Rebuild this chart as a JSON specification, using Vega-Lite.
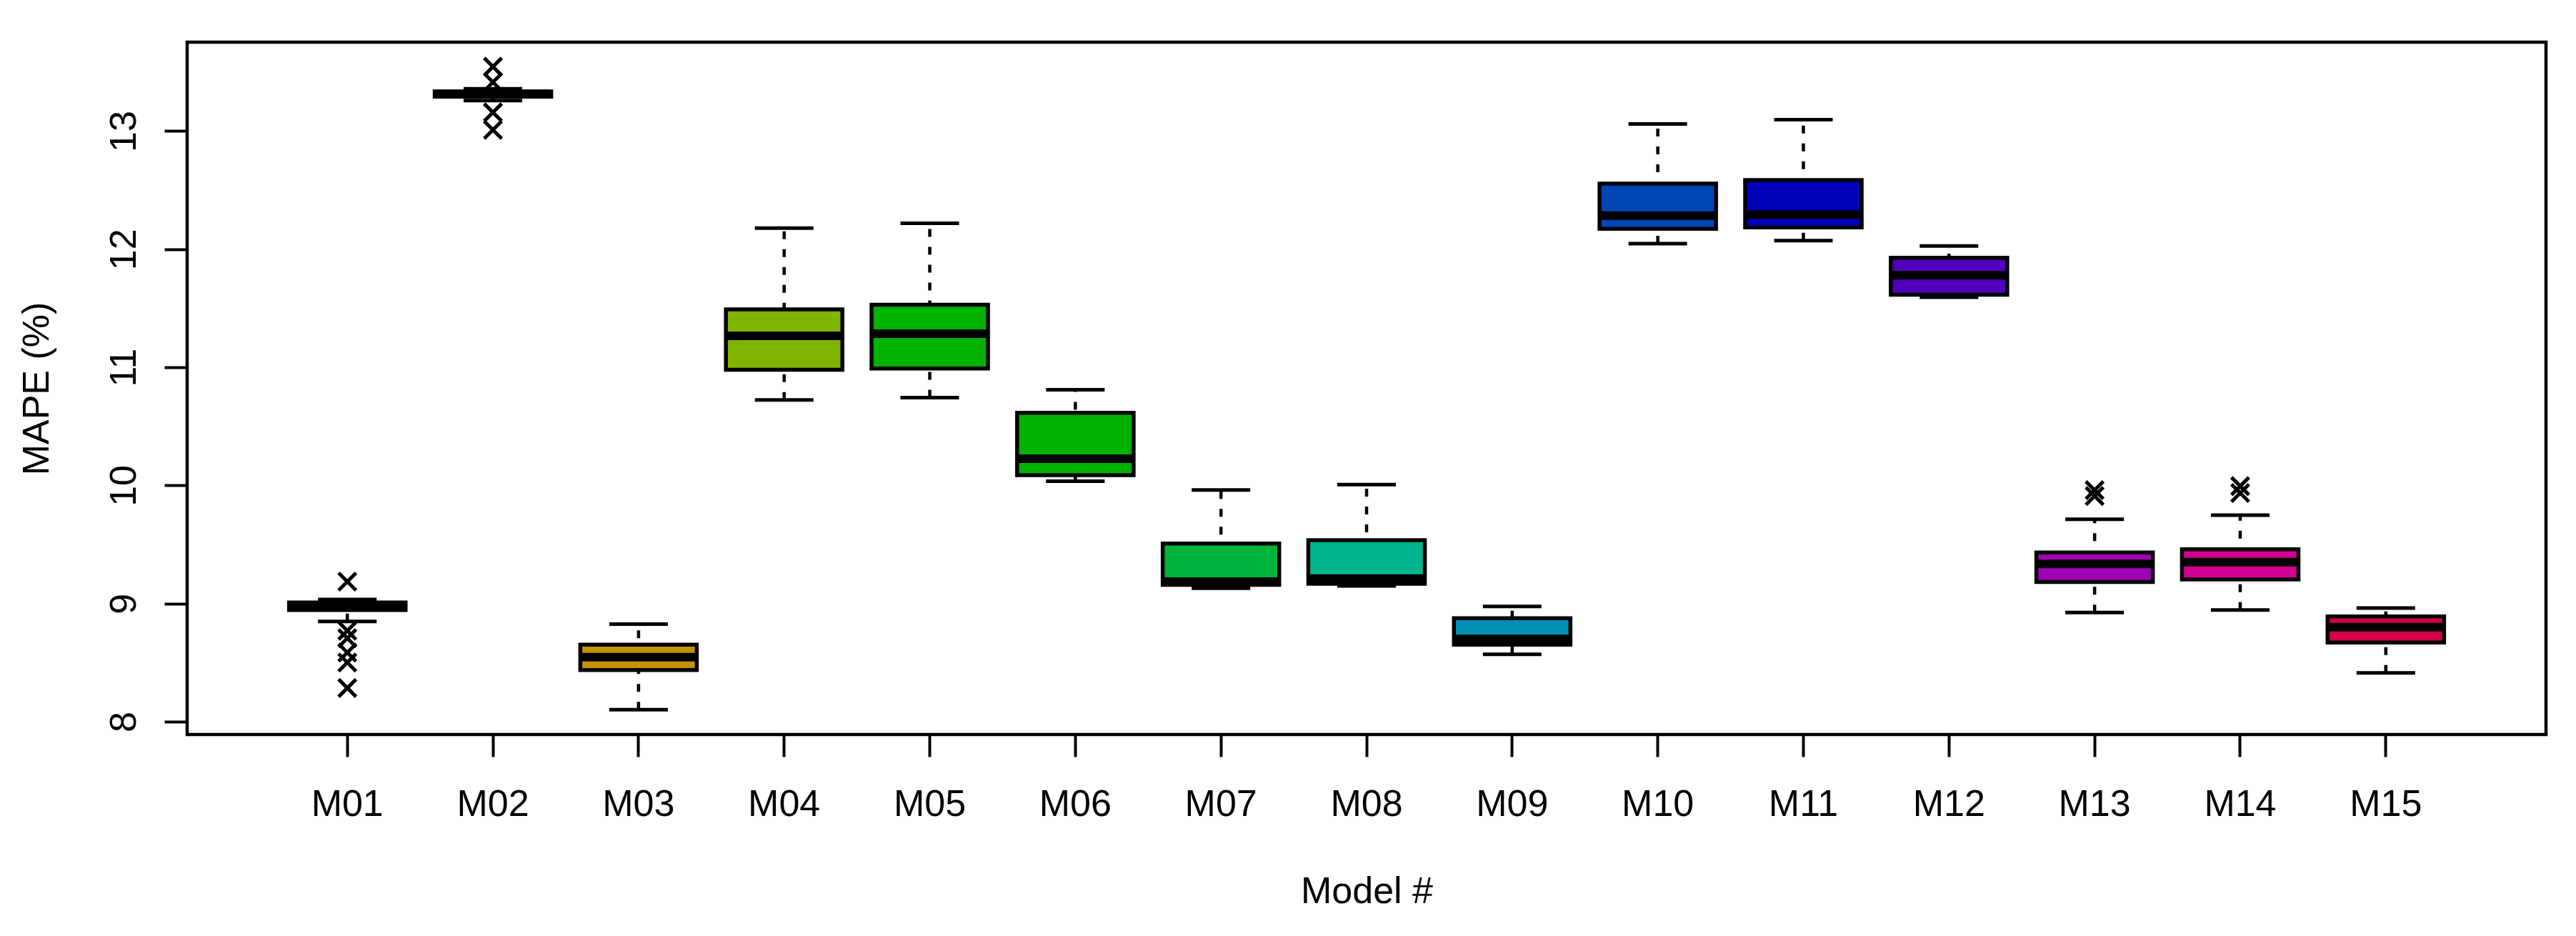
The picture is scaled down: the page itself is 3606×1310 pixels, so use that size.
{
  "$schema": "https://vega.github.io/schema/vega-lite/v6.json",
  "width": 3302,
  "height": 969,
  "autosize": {"type": "none"},
  "padding": {"left": 262, "top": 59, "right": 42, "bottom": 282},
  "background": "white",
  "config": {
    "view": {"stroke": "black", "strokeWidth": 4.5, "fill": "white"},
    "font": "Liberation Sans"
  },
  "datasets": {
    "boxes": [
      {"model": "M01", "lo": 8.848, "q1": 8.945, "med": 8.977, "q3": 9.008, "hi": 9.035},
      {"model": "M02", "lo": 13.259, "q1": 13.292, "med": 13.315, "q3": 13.336, "hi": 13.358},
      {"model": "M03", "lo": 8.101, "q1": 8.437, "med": 8.546, "q3": 8.652, "hi": 8.826},
      {"model": "M04", "lo": 10.723, "q1": 10.98, "med": 11.267, "q3": 11.49, "hi": 12.179},
      {"model": "M05", "lo": 10.743, "q1": 10.99, "med": 11.285, "q3": 11.53, "hi": 12.22},
      {"model": "M06", "lo": 10.035, "q1": 10.087, "med": 10.226, "q3": 10.615, "hi": 10.81},
      {"model": "M07", "lo": 9.13, "q1": 9.158, "med": 9.185, "q3": 9.508, "hi": 9.962},
      {"model": "M08", "lo": 9.15, "q1": 9.168, "med": 9.212, "q3": 9.536, "hi": 10.007},
      {"model": "M09", "lo": 8.57, "q1": 8.652, "med": 8.7, "q3": 8.875, "hi": 8.976},
      {"model": "M10", "lo": 12.047, "q1": 12.172, "med": 12.285, "q3": 12.555, "hi": 13.06},
      {"model": "M11", "lo": 12.073, "q1": 12.185, "med": 12.294, "q3": 12.585, "hi": 13.096},
      {"model": "M12", "lo": 11.593, "q1": 11.615, "med": 11.78, "q3": 11.927, "hi": 12.027},
      {"model": "M13", "lo": 8.924, "q1": 9.183, "med": 9.336, "q3": 9.432, "hi": 9.713},
      {"model": "M14", "lo": 8.945, "q1": 9.203, "med": 9.35, "q3": 9.46, "hi": 9.748},
      {"model": "M15", "lo": 8.413, "q1": 8.67, "med": 8.8, "q3": 8.89, "hi": 8.962}
    ],
    "outliers": [
      {"model": "M01", "value": 9.186},
      {"model": "M01", "value": 8.77},
      {"model": "M01", "value": 8.706},
      {"model": "M01", "value": 8.585},
      {"model": "M01", "value": 8.5},
      {"model": "M01", "value": 8.285},
      {"model": "M02", "value": 13.545},
      {"model": "M02", "value": 13.414},
      {"model": "M02", "value": 13.158},
      {"model": "M02", "value": 13.011},
      {"model": "M13", "value": 9.96},
      {"model": "M13", "value": 9.91},
      {"model": "M14", "value": 9.994},
      {"model": "M14", "value": 9.936}
    ]
  },
  "encoding": {
    "x": {
      "field": "model",
      "type": "nominal",
      "sort": null,
      "scale": {
        "domain": ["M01","M02","M03","M04","M05","M06","M07","M08","M09","M10","M11","M12","M13","M14","M15"],
        "paddingInner": 0.2,
        "paddingOuter": 0.7
      },
      "axis": {
        "title": "Model #",
        "labelAngle": 0,
        "labelFont": "Liberation Sans",
        "labelFontSize": 52,
        "labelColor": "black",
        "labelBaseline": "alphabetic",
        "labelPadding": 82,
        "tickSize": 31,
        "tickWidth": 4,
        "tickColor": "black",
        "domain": false,
        "grid": false,
        "titleFont": "Liberation Sans",
        "titleFontSize": 52,
        "titleFontWeight": "normal",
        "titleColor": "black",
        "titleBaseline": "alphabetic",
        "titleY": 235
      }
    }
  },
  "layer": [
    {
      "data": {"name": "boxes"},
      "mark": {"type": "rule", "color": "black", "opacity": 1, "strokeWidth": 4.5, "strokeDash": [11, 14]},
      "encoding": {
        "y": {
          "field": "lo",
          "type": "quantitative",
          "scale": {"domain": [7.891, 13.753], "nice": false, "zero": false},
          "axis": {
            "title": "MAPE (%)",
            "values": [8, 9, 10, 11, 12, 13],
            "format": "d",
            "labelAngle": 270,
            "labelAlign": "center",
            "labelBaseline": "alphabetic",
            "labelPadding": 41,
            "labelFont": "Liberation Sans",
            "labelFontSize": 52,
            "labelColor": "black",
            "tickSize": 32,
            "tickWidth": 4,
            "tickColor": "black",
            "domain": false,
            "grid": false,
            "titleFont": "Liberation Sans",
            "titleFontSize": 52,
            "titleFontWeight": "normal",
            "titleColor": "black",
            "titleAngle": 270,
            "titleAlign": "center",
            "titleBaseline": "alphabetic",
            "titleX": -195,
            "titleY": 484.5
          }
        },
        "y2": {"field": "hi"}
      }
    },
    {
      "data": {"name": "boxes"},
      "mark": {"type": "tick", "color": "black", "opacity": 1, "size": 82, "thickness": 5, "orient": "horizontal"},
      "encoding": {"y": {"field": "lo", "type": "quantitative"}}
    },
    {
      "data": {"name": "boxes"},
      "mark": {"type": "tick", "color": "black", "opacity": 1, "size": 82, "thickness": 5, "orient": "horizontal"},
      "encoding": {"y": {"field": "hi", "type": "quantitative"}}
    },
    {
      "data": {"name": "boxes"},
      "mark": {"type": "bar", "stroke": "black", "strokeWidth": 5.5, "opacity": 1},
      "encoding": {
        "y": {"field": "q1", "type": "quantitative"},
        "y2": {"field": "q3"},
        "fill": {
          "field": "model",
          "type": "nominal",
          "legend": null,
          "scale": {
            "domain": ["M01","M02","M03","M04","M05","M06","M07","M08","M09","M10","M11","M12","M13","M14","M15"],
            "range": ["#B40000","#B45A00","#C39200","#80B400","#00B200","#00B200","#00B33C","#00B48E","#008FB4","#0046B4","#0000B8","#5000B8","#A000B4","#D10090","#D0004A"]
          }
        }
      }
    },
    {
      "data": {"name": "boxes"},
      "mark": {"type": "tick", "color": "black", "opacity": 1, "size": 160, "thickness": 12, "orient": "horizontal"},
      "encoding": {"y": {"field": "med", "type": "quantitative"}}
    },
    {
      "data": {"name": "outliers"},
      "mark": {"type": "point", "shape": "M-1,-1L1,1M-1,1L1,-1", "filled": false, "stroke": "black", "strokeWidth": 5, "size": 600, "opacity": 1},
      "encoding": {"y": {"field": "value", "type": "quantitative"}}
    }
  ]
}
